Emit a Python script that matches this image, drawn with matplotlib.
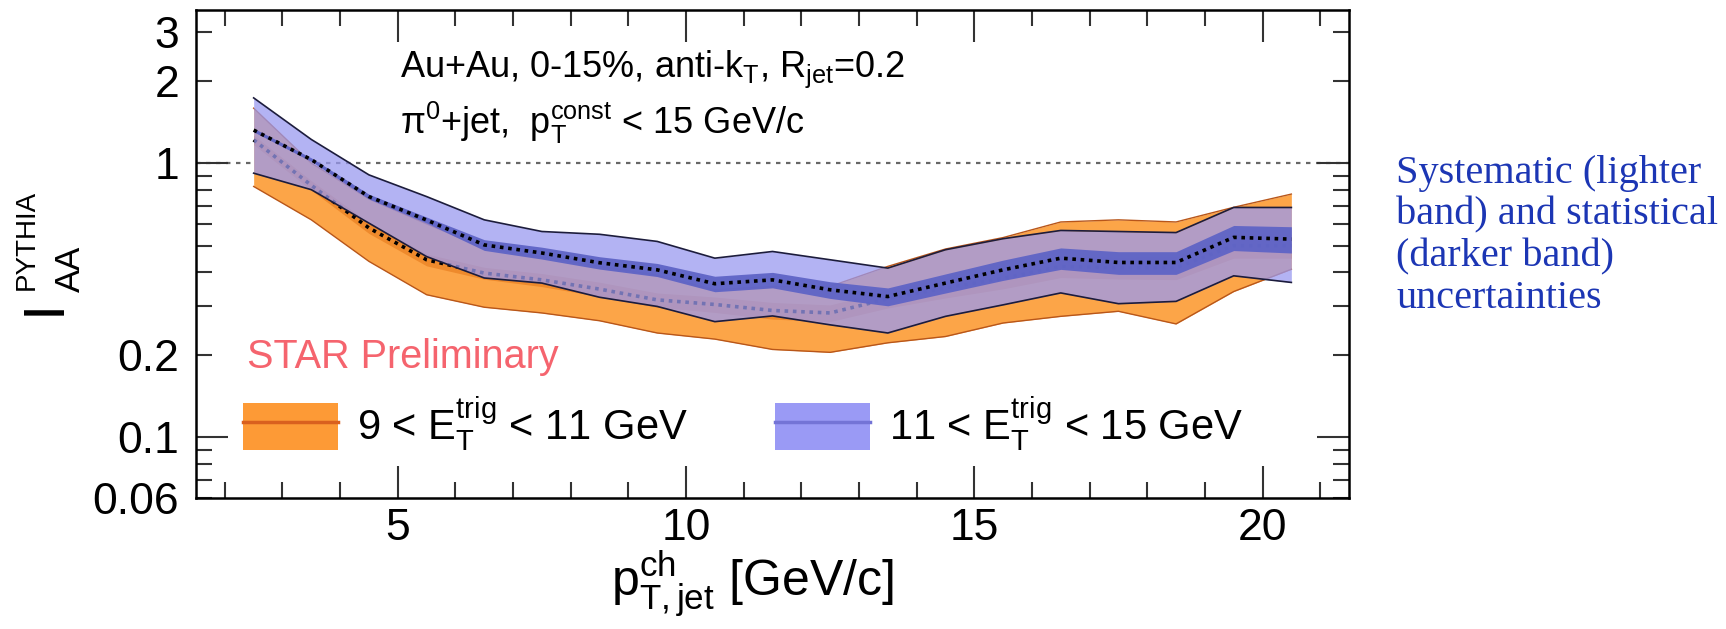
import matplotlib
matplotlib.use("Agg")
import matplotlib.pyplot as plt
from matplotlib.patches import Patch
from matplotlib.lines import Line2D
import numpy as np

plt.rcParams['font.family'] = ['Liberation Sans', 'DejaVu Sans']
plt.rcParams['mathtext.fontset'] = 'custom'
plt.rcParams['mathtext.rm'] = 'Liberation Sans'
plt.rcParams['mathtext.it'] = 'Liberation Sans:italic'
plt.rcParams['mathtext.bf'] = 'Liberation Sans:bold'

# jet pT bin centres
pt = [2.5, 3.5, 4.5, 5.5, 6.5, 7.5, 8.5, 9.5, 10.5, 11.5,
      12.5, 13.5, 14.5, 15.5, 16.5, 17.5, 18.5, 19.5, 20.5]

# 9 < E_T^trig < 11 GeV
lo_val = [1.216, 0.83, 0.58, 0.444, 0.397, 0.375, 0.347, 0.317, 0.305, 0.29,
          0.284, 0.32, 0.35, 0.38, 0.42, 0.415, 0.415, 0.50, 0.50]
lo_sys_hi = [1.587, 1.0, 0.74, 0.60, 0.49, 0.455, 0.42, 0.39, 0.345, 0.355,
             0.355, 0.42, 0.486, 0.535, 0.61, 0.621, 0.61, 0.69, 0.771]
lo_sys_lo = [0.822, 0.621, 0.438, 0.331, 0.298, 0.284, 0.266, 0.240, 0.228, 0.209,
             0.204, 0.221, 0.233, 0.261, 0.276, 0.288, 0.259, 0.34, 0.41]
lo_stat = [0.04, 0.04, 0.045, 0.05, 0.05, 0.055, 0.06, 0.06, 0.065, 0.07,
           0.07, 0.075, 0.08, 0.085, 0.09, 0.09, 0.095, 0.10, 0.10]

# 11 < E_T^trig < 15 GeV
hi_val = [1.32, 1.03, 0.755, 0.62, 0.503, 0.47, 0.433, 0.408, 0.363, 0.375,
          0.345, 0.326, 0.365, 0.408, 0.45, 0.434, 0.434, 0.536, 0.528]
hi_sys_hi = [1.73, 1.22, 0.906, 0.755, 0.621, 0.563, 0.55, 0.518, 0.45, 0.476,
             0.444, 0.414, 0.483, 0.53, 0.568, 0.563, 0.558, 0.689, 0.689]
hi_sys_lo = [0.919, 0.80, 0.604, 0.456, 0.381, 0.365, 0.324, 0.30, 0.264, 0.277,
             0.257, 0.24, 0.276, 0.304, 0.336, 0.307, 0.313, 0.388, 0.367]
hi_stat = [0.015, 0.015, 0.02, 0.025, 0.045, 0.05, 0.052, 0.055, 0.065, 0.065,
           0.07, 0.075, 0.08, 0.085, 0.09, 0.095, 0.095, 0.105, 0.11]

labels = [r"9 < E$_\mathrm{T}^\mathrm{trig}$ < 11 GeV",
          r"11 < E$_\mathrm{T}^\mathrm{trig}$ < 15 GeV"]

x = np.array(pt)
dots = (0, (1, 1.3))

fig = plt.figure(figsize=(17.26, 6.29), dpi=100)
ax = fig.add_axes([0.11356, 0.20827, 0.66802, 0.77583])

# orange: 9-11 GeV
v = np.array(lo_val)
e = np.array(lo_stat)
ax.fill_between(x, lo_sys_lo, lo_sys_hi, color='#fca548', lw=0, zorder=1)
ax.fill_between(x, v * (1 - e), v * (1 + e), color='#ee8a2c', lw=0, zorder=1.1)
ax.plot(x, lo_sys_hi, color='#b8561a', lw=1.0, zorder=1.2)
ax.plot(x, lo_sys_lo, color='#b8561a', lw=1.0, zorder=1.2)
ax.plot(x, v, color='black', lw=2.6, ls=dots, zorder=1.3)

# blue: 11-15 GeV
v = np.array(hi_val)
e = np.array(hi_stat)
ax.fill_between(x, hi_sys_lo, hi_sys_hi, color='#9a9af0', alpha=0.75, lw=0, zorder=2)
ax.plot(x, hi_sys_hi, color='#1c1c3c', lw=1.2, zorder=2.1)
ax.plot(x, hi_sys_lo, color='#1c1c3c', lw=1.2, zorder=2.1)
ax.fill_between(x, v * (1 - e), v * (1 + e), color='#5f64c6', alpha=0.95, lw=0, zorder=2.2)
ax.plot(x, v, color='black', lw=2.6, ls=dots, zorder=2.3)

ax.axhline(1, color='#666666', lw=1.6, ls=(0, (2, 2.5)), zorder=0.5)

ax.set_yscale('log')
ax.set_xlim(1.5, 21.5)
ax.set_ylim(0.06, 3.62)

ax.set_xticks([5, 10, 15, 20])
ax.set_xticks(range(2, 22), minor=True)
ax.set_xticklabels(['5', '10', '15', '20'])

ax.set_yticks([0.1, 1])
ax.set_yticklabels(['0.1', '1'])
ymin = [0.06, 0.07, 0.08, 0.09, 0.2, 0.3, 0.4, 0.5, 0.6, 0.7, 0.8, 0.9, 2, 3]
ymin_lab = ['0.06', '', '', '', '0.2', '', '', '', '', '', '', '', '2', '3']
ax.set_yticks(ymin, minor=True)
ax.set_yticklabels(ymin_lab, minor=True)

ax.tick_params(which='both', direction='in', top=True, right=True,
               width=1.5, color='#333333', labelsize=32)
ax.tick_params(which='major', length=23)
ax.tick_params(which='minor', length=11.5)
ax.tick_params(axis='y', which='both', pad=12)
ax.tick_params(axis='x', which='both', pad=7)
for s in ax.spines.values():
    s.set_linewidth(1.8)

ax.text(400 / 1726, 1 - 77 / 629, r"Au+Au, 0-15%, anti-k$_\mathrm{T}$, R$_\mathrm{jet}$=0.2",
        transform=fig.transFigure, fontsize=26, va='baseline')
ax.text(400 / 1726, 1 - 134 / 629, r"π$^\mathrm{0}$+jet,  p$_\mathrm{T}^\mathrm{const}$ < 15 GeV/c",
        transform=fig.transFigure, fontsize=26, va='baseline')
ax.text(247 / 1726, 1 - 368 / 629, "STAR Preliminary", color='#f5646e',
        transform=fig.transFigure, fontsize=28.5, va='baseline')

handles = [(Patch(facecolor='#fd9a36', lw=0), Line2D([], [], color='#d9601e', lw=2.5)),
           (Patch(facecolor='#9a9af5', lw=0), Line2D([], [], color='#7474d6', lw=2.5))]
ax.legend(handles, labels, loc='center left', ncol=2, frameon=False, fontsize=30,
          bbox_to_anchor=(243 / 1726, 1 - 425 / 629), bbox_transform=fig.transFigure,
          borderpad=0, borderaxespad=0, handlelength=2.28, handleheight=1.34,
          handletextpad=0.45, columnspacing=2.1)

# x title
fig.text(752 / 1726, 1 - 597 / 629, r"p$_\mathrm{T,jet}^\mathrm{ch}$ [GeV/c]",
         fontsize=36, ha='center', va='baseline')

# y title in pieces
fig.text(60 / 1726, 1 - 315 / 629, "I", fontsize=42, rotation=90,
         rotation_mode='anchor', ha='left', va='baseline')
fig.text(80 / 1726, 1 - 292 / 629, "AA", fontsize=25, rotation=90,
         rotation_mode='anchor', ha='left', va='baseline')
fig.text(34 / 1726, 1 - 290 / 629, "PYTHIA", fontsize=20, rotation=90,
         rotation_mode='anchor', ha='left', va='baseline')

fig.text(1396 / 1726, 1 - 155 / 629,
         "Systematic (lighter\nband) and statistical\n(darker band)\nuncertainties",
         family='Liberation Serif', fontsize=29, color='#1c36b4',
         va='top', ha='left', linespacing=1.17)

fig.savefig("out.png", dpi=100)
